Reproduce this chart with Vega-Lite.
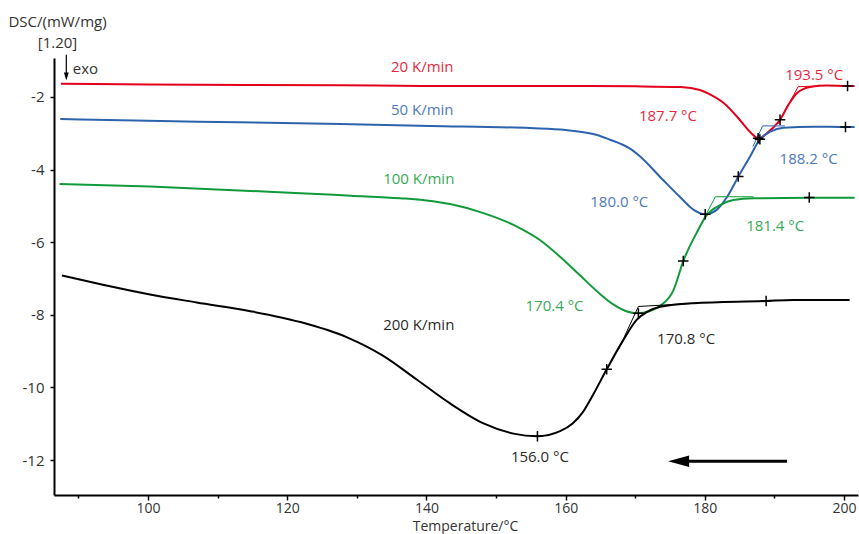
{
  "$schema": "https://vega.github.io/schema/vega-lite/v6.json",
  "width": 804,
  "height": 437,
  "autosize": {"type": "none"},
  "padding": {"left": 54, "top": 58, "right": 1, "bottom": 39},
  "background": "white",
  "config": {
    "view": {"stroke": null},
    "font": "Open Sans",
    "axis": {"grid": false, "domainColor": "black", "domainWidth": 2, "tickColor": "black", "tickWidth": 1.5, "labelFontSize": 15, "labelColor": "#333333", "titleFontSize": 15, "titleFontWeight": "normal", "titleColor": "#333333", "labelFlush": false}
  },
  "datasets": {
    "curves": [
      {"T": 87.5, "DSC": -1.64, "rate": "20 K/min"},
      {"T": 100, "DSC": -1.66, "rate": "20 K/min"},
      {"T": 127.6, "DSC": -1.68, "rate": "20 K/min"},
      {"T": 140, "DSC": -1.70, "rate": "20 K/min"},
      {"T": 160, "DSC": -1.70, "rate": "20 K/min"},
      {"T": 170, "DSC": -1.71, "rate": "20 K/min"},
      {"T": 176.5, "DSC": -1.73, "rate": "20 K/min"},
      {"T": 179.3, "DSC": -1.81, "rate": "20 K/min"},
      {"T": 180.8, "DSC": -1.94, "rate": "20 K/min"},
      {"T": 182.7, "DSC": -2.17, "rate": "20 K/min"},
      {"T": 184.6, "DSC": -2.54, "rate": "20 K/min"},
      {"T": 186.0, "DSC": -2.86, "rate": "20 K/min"},
      {"T": 187.0, "DSC": -3.06, "rate": "20 K/min"},
      {"T": 187.65, "DSC": -3.14, "rate": "20 K/min"},
      {"T": 188.3, "DSC": -3.10, "rate": "20 K/min"},
      {"T": 188.9, "DSC": -3.00, "rate": "20 K/min"},
      {"T": 189.8, "DSC": -2.85, "rate": "20 K/min"},
      {"T": 190.8, "DSC": -2.63, "rate": "20 K/min"},
      {"T": 192.0, "DSC": -2.22, "rate": "20 K/min"},
      {"T": 193.2, "DSC": -1.90, "rate": "20 K/min"},
      {"T": 194.2, "DSC": -1.78, "rate": "20 K/min"},
      {"T": 195.1, "DSC": -1.73, "rate": "20 K/min"},
      {"T": 197.5, "DSC": -1.69, "rate": "20 K/min"},
      {"T": 200.5, "DSC": -1.70, "rate": "20 K/min"},
      {"T": 201.5, "DSC": -1.70, "rate": "20 K/min"},

      {"T": 87.4, "DSC": -2.61, "rate": "50 K/min"},
      {"T": 100, "DSC": -2.66, "rate": "50 K/min"},
      {"T": 113, "DSC": -2.70, "rate": "50 K/min"},
      {"T": 127.6, "DSC": -2.75, "rate": "50 K/min"},
      {"T": 140.6, "DSC": -2.80, "rate": "50 K/min"},
      {"T": 154.9, "DSC": -2.86, "rate": "50 K/min"},
      {"T": 160, "DSC": -2.91, "rate": "50 K/min"},
      {"T": 162.1, "DSC": -2.96, "rate": "50 K/min"},
      {"T": 164.5, "DSC": -3.05, "rate": "50 K/min"},
      {"T": 166.4, "DSC": -3.18, "rate": "50 K/min"},
      {"T": 168.0, "DSC": -3.30, "rate": "50 K/min"},
      {"T": 169.3, "DSC": -3.43, "rate": "50 K/min"},
      {"T": 170.7, "DSC": -3.64, "rate": "50 K/min"},
      {"T": 174.0, "DSC": -4.29, "rate": "50 K/min"},
      {"T": 176.4, "DSC": -4.75, "rate": "50 K/min"},
      {"T": 178.4, "DSC": -5.11, "rate": "50 K/min"},
      {"T": 180.05, "DSC": -5.23, "rate": "50 K/min"},
      {"T": 181.7, "DSC": -5.11, "rate": "50 K/min"},
      {"T": 183.2, "DSC": -4.75, "rate": "50 K/min"},
      {"T": 184.8, "DSC": -4.20, "rate": "50 K/min"},
      {"T": 186.5, "DSC": -3.64, "rate": "50 K/min"},
      {"T": 187.9, "DSC": -3.17, "rate": "50 K/min"},
      {"T": 189.4, "DSC": -2.96, "rate": "50 K/min"},
      {"T": 191.3, "DSC": -2.85, "rate": "50 K/min"},
      {"T": 195.6, "DSC": -2.82, "rate": "50 K/min"},
      {"T": 200.2, "DSC": -2.83, "rate": "50 K/min"},
      {"T": 201.5, "DSC": -2.83, "rate": "50 K/min"},

      {"T": 87.3, "DSC": -4.40, "rate": "100 K/min"},
      {"T": 100.3, "DSC": -4.47, "rate": "100 K/min"},
      {"T": 114.7, "DSC": -4.59, "rate": "100 K/min"},
      {"T": 121.9, "DSC": -4.65, "rate": "100 K/min"},
      {"T": 129.1, "DSC": -4.72, "rate": "100 K/min"},
      {"T": 136.2, "DSC": -4.79, "rate": "100 K/min"},
      {"T": 140, "DSC": -4.85, "rate": "100 K/min"},
      {"T": 143.4, "DSC": -4.95, "rate": "100 K/min"},
      {"T": 148.2, "DSC": -5.20, "rate": "100 K/min"},
      {"T": 153.0, "DSC": -5.57, "rate": "100 K/min"},
      {"T": 156.3, "DSC": -5.94, "rate": "100 K/min"},
      {"T": 159.2, "DSC": -6.40, "rate": "100 K/min"},
      {"T": 162.1, "DSC": -6.92, "rate": "100 K/min"},
      {"T": 164.9, "DSC": -7.42, "rate": "100 K/min"},
      {"T": 166.9, "DSC": -7.72, "rate": "100 K/min"},
      {"T": 168.7, "DSC": -7.90, "rate": "100 K/min"},
      {"T": 170.45, "DSC": -7.96, "rate": "100 K/min"},
      {"T": 172.0, "DSC": -7.90, "rate": "100 K/min"},
      {"T": 173.6, "DSC": -7.75, "rate": "100 K/min"},
      {"T": 175.5, "DSC": -7.32, "rate": "100 K/min"},
      {"T": 176.9, "DSC": -6.52, "rate": "100 K/min"},
      {"T": 178.8, "DSC": -5.75, "rate": "100 K/min"},
      {"T": 180.3, "DSC": -5.25, "rate": "100 K/min"},
      {"T": 182.2, "DSC": -4.98, "rate": "100 K/min"},
      {"T": 184.1, "DSC": -4.84, "rate": "100 K/min"},
      {"T": 187.0, "DSC": -4.79, "rate": "100 K/min"},
      {"T": 195.0, "DSC": -4.78, "rate": "100 K/min"},
      {"T": 201.5, "DSC": -4.78, "rate": "100 K/min"},

      {"T": 87.65, "DSC": -6.92, "rate": "200 K/min"},
      {"T": 94, "DSC": -7.19, "rate": "200 K/min"},
      {"T": 100.3, "DSC": -7.44, "rate": "200 K/min"},
      {"T": 107, "DSC": -7.66, "rate": "200 K/min"},
      {"T": 114.7, "DSC": -7.90, "rate": "200 K/min"},
      {"T": 121.9, "DSC": -8.20, "rate": "200 K/min"},
      {"T": 128.6, "DSC": -8.62, "rate": "200 K/min"},
      {"T": 133.8, "DSC": -9.13, "rate": "200 K/min"},
      {"T": 138.6, "DSC": -9.78, "rate": "200 K/min"},
      {"T": 143.4, "DSC": -10.44, "rate": "200 K/min"},
      {"T": 148.2, "DSC": -10.99, "rate": "200 K/min"},
      {"T": 152.5, "DSC": -11.27, "rate": "200 K/min"},
      {"T": 155.95, "DSC": -11.34, "rate": "200 K/min"},
      {"T": 159.2, "DSC": -11.20, "rate": "200 K/min"},
      {"T": 161.0, "DSC": -10.99, "rate": "200 K/min"},
      {"T": 162.5, "DSC": -10.67, "rate": "200 K/min"},
      {"T": 164.0, "DSC": -10.18, "rate": "200 K/min"},
      {"T": 165.9, "DSC": -9.50, "rate": "200 K/min"},
      {"T": 168.3, "DSC": -8.69, "rate": "200 K/min"},
      {"T": 170.2, "DSC": -8.14, "rate": "200 K/min"},
      {"T": 171.7, "DSC": -7.92, "rate": "200 K/min"},
      {"T": 173.6, "DSC": -7.78, "rate": "200 K/min"},
      {"T": 178.4, "DSC": -7.68, "rate": "200 K/min"},
      {"T": 188.8, "DSC": -7.62, "rate": "200 K/min"},
      {"T": 192.7, "DSC": -7.59, "rate": "200 K/min"},
      {"T": 200.8, "DSC": -7.59, "rate": "200 K/min"}
    ],
    "tangents": [
      {"T": 190.5, "DSC": -2.75, "rate": "20 K/min", "seg": "r1"},
      {"T": 193.4, "DSC": -1.72, "rate": "20 K/min", "seg": "r1"},
      {"T": 196.5, "DSC": -1.70, "rate": "20 K/min", "seg": "r1"},
      {"T": 186.9, "DSC": -3.37, "rate": "50 K/min", "seg": "b1"},
      {"T": 188.3, "DSC": -2.80, "rate": "50 K/min", "seg": "b1"},
      {"T": 191.5, "DSC": -2.80, "rate": "50 K/min", "seg": "b1"},
      {"T": 179.6, "DSC": -5.45, "rate": "100 K/min", "seg": "g1"},
      {"T": 181.5, "DSC": -4.75, "rate": "100 K/min", "seg": "g1"},
      {"T": 187.0, "DSC": -4.75, "rate": "100 K/min", "seg": "g1"},
      {"T": 167.6, "DSC": -8.95, "rate": "200 K/min", "seg": "k1"},
      {"T": 170.45, "DSC": -7.77, "rate": "200 K/min", "seg": "k1"},
      {"T": 178.8, "DSC": -7.68, "rate": "200 K/min", "seg": "k1"}
    ],
    "marks": [
      {"T": 187.65, "DSC": -3.14},
      {"T": 190.8, "DSC": -2.63},
      {"T": 200.5, "DSC": -1.70},
      {"T": 180.05, "DSC": -5.23},
      {"T": 184.8, "DSC": -4.19},
      {"T": 187.9, "DSC": -3.17},
      {"T": 200.2, "DSC": -2.83},
      {"T": 170.45, "DSC": -7.96},
      {"T": 176.9, "DSC": -6.52},
      {"T": 195.0, "DSC": -4.77},
      {"T": 155.95, "DSC": -11.34},
      {"T": 165.9, "DSC": -9.50},
      {"T": 188.8, "DSC": -7.62}
    ],
    "labels": [
      {"T": 139.4, "DSC": -1.17, "text": "20 K/min", "rate": "20 K/min"},
      {"T": 139.4, "DSC": -2.36, "text": "50 K/min", "rate": "50 K/min"},
      {"T": 138.9, "DSC": -4.26, "text": "100 K/min", "rate": "100 K/min"},
      {"T": 138.9, "DSC": -8.28, "text": "200 K/min", "rate": "200 K/min"},
      {"T": 174.7, "DSC": -2.52, "text": "187.7 °C", "rate": "20 K/min"},
      {"T": 195.7, "DSC": -1.39, "text": "193.5 °C", "rate": "20 K/min"},
      {"T": 167.7, "DSC": -4.89, "text": "180.0 °C", "rate": "50 K/min"},
      {"T": 194.9, "DSC": -3.71, "text": "188.2 °C", "rate": "50 K/min"},
      {"T": 190.1, "DSC": -5.55, "text": "181.4 °C", "rate": "100 K/min"},
      {"T": 158.4, "DSC": -7.76, "text": "170.4 °C", "rate": "100 K/min"},
      {"T": 177.3, "DSC": -8.67, "text": "170.8 °C", "rate": "200 K/min"},
      {"T": 156.3, "DSC": -11.92, "text": "156.0 °C", "rate": "200 K/min"}
    ]
  },
  "layer": [
    {
      "data": {"name": "curves"},
      "mark": {"type": "line", "strokeWidth": 2, "interpolate": "monotone"},
      "encoding": {
        "x": {"field": "T", "type": "quantitative", "scale": {"domain": [86.5, 202], "nice": false, "zero": false},
          "axis": {"values": [90, 100, 110, 120, 130, 140, 150, 160, 170, 180, 190, 200],
            "labelExpr": "datum.value % 20 === 0 ? datum.label : ''",
            "tickSize": {"condition": {"test": "datum.value % 20 !== 0", "value": 3}, "value": 5},
            "labelPadding": 1, "labelFontSize": 14,
            "title": "Temperature/°C", "titleFontSize": 14, "titleX": 411, "titleY": 35, "titleBaseline": "alphabetic", "titleAlign": "center"}},
        "y": {"field": "DSC", "type": "quantitative", "scale": {"domain": [-12.96, -0.93], "nice": false, "zero": false},
          "axis": {"values": [-12, -11, -10, -9, -8, -7, -6, -5, -4, -3, -2, -1],
            "labelExpr": "datum.value % 2 === 0 ? '' + datum.value : ''",
            "tickSize": {"condition": {"test": "datum.value % 2 !== 0", "value": 3}, "value": 4},
            "labelPadding": 6,
            "title": ["DSC/(mW/mg)", "[1.20]"], "titleAngle": 0, "titleAlign": "center", "titleBaseline": "alphabetic",
            "titleX": 3, "titleY": -32, "titleLineHeight": 21}},
        "color": {"field": "rate", "type": "nominal",
          "scale": {"domain": ["20 K/min", "50 K/min", "100 K/min", "200 K/min"], "range": ["#e3001b", "#2d63ad", "#119a3a", "#000000"]},
          "legend": null}
      }
    },
    {
      "data": {"name": "tangents"},
      "mark": {"type": "line", "strokeWidth": 1},
      "encoding": {
        "x": {"field": "T", "type": "quantitative"},
        "y": {"field": "DSC", "type": "quantitative"},
        "color": {"field": "rate", "type": "nominal", "legend": null},
        "detail": {"field": "seg"},
        "order": {"field": "T"}
      }
    },
    {
      "data": {"name": "marks"},
      "mark": {"type": "point", "shape": "M-1,0L1,0M0,-1L0,1", "filled": false, "stroke": "black", "strokeWidth": 1.5, "size": 110, "opacity": 1},
      "encoding": {
        "x": {"field": "T", "type": "quantitative"},
        "y": {"field": "DSC", "type": "quantitative"}
      }
    },
    {
      "data": {"name": "labels"},
      "mark": {"type": "text", "fontSize": 15, "align": "center", "baseline": "middle", "opacity": 0.85},
      "encoding": {
        "x": {"field": "T", "type": "quantitative"},
        "y": {"field": "DSC", "type": "quantitative"},
        "text": {"field": "text"},
        "color": {"field": "rate", "type": "nominal", "legend": null}
      }
    },
    {
      "data": {"values": [{"T": 88.27, "DSC": -0.84, "DSC2": -1.40}]},
      "mark": {"type": "rule", "color": "black", "strokeWidth": 1.2},
      "encoding": {
        "x": {"field": "T", "type": "quantitative"},
        "y": {"field": "DSC", "type": "quantitative"},
        "y2": {"field": "DSC2"}
      }
    },
    {
      "data": {"values": [{"T": 88.27, "DSC": -1.44}]},
      "mark": {"type": "point", "shape": "M-0.6,-1L0.6,-1L0,1Z", "filled": true, "color": "black", "size": 64, "opacity": 1},
      "encoding": {
        "x": {"field": "T", "type": "quantitative"},
        "y": {"field": "DSC", "type": "quantitative"}
      }
    },
    {
      "data": {"values": [{"T": 89.2, "DSC": -1.23, "text": "exo"}]},
      "mark": {"type": "text", "fontSize": 15, "align": "left", "baseline": "middle", "color": "#333333"},
      "encoding": {
        "x": {"field": "T", "type": "quantitative"},
        "y": {"field": "DSC", "type": "quantitative"},
        "text": {"field": "text"}
      }
    },
    {
      "data": {"values": [{"T": 176.5, "T2": 191.8, "DSC": -12.03}]},
      "mark": {"type": "rule", "color": "black", "strokeWidth": 3},
      "encoding": {
        "x": {"field": "T", "type": "quantitative"},
        "x2": {"field": "T2"},
        "y": {"field": "DSC", "type": "quantitative"}
      }
    },
    {
      "data": {"values": [{"T": 176.23, "DSC": -12.03}]},
      "mark": {"type": "point", "shape": "M-1,0L1,-0.55L1,0.55Z", "filled": true, "color": "black", "size": 441, "opacity": 1},
      "encoding": {
        "x": {"field": "T", "type": "quantitative"},
        "y": {"field": "DSC", "type": "quantitative"}
      }
    }
  ]
}
